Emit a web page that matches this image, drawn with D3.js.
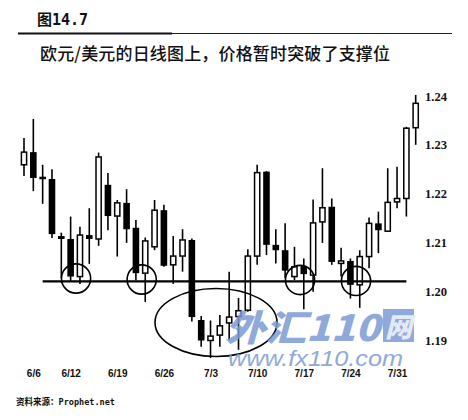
<!DOCTYPE html>
<html><head><meta charset="utf-8">
<script src="https://cdn.jsdelivr.net/npm/d3@7"></script>
<style>body{margin:0;background:#fff}svg{display:block}</style>
</head><body>
<svg id="c" width="468" height="420"></svg>
<script>
// ---- data ----
const dates = ["6/5","6/6","6/7","6/8","6/9","6/12","6/13","6/14","6/15","6/16",
  "6/19","6/20","6/21","6/22","6/23","6/26","6/27","6/28","6/29","6/30",
  "7/3","7/4","7/5","7/6","7/7","7/10","7/11","7/12","7/13","7/14",
  "7/17","7/18","7/19","7/20","7/21","7/24","7/25","7/26","7/27","7/28",
  "7/31","8/1","8/2"];
const open  = [1.2259,1.2285,1.2234,1.2230,1.2113,1.2107,1.2030,1.2115,1.2107,1.2218,
  1.2154,1.2181,1.2130,1.2037,1.2091,1.2166,1.2054,1.2072,1.2105,1.1941,
  1.1899,1.1910,1.1935,1.1948,1.1961,1.2072,1.2245,1.2095,1.2084,1.2030,
  1.2052,1.2033,1.2142,1.2173,1.2057,1.2062,1.2013,1.2071,1.2139,1.2123,
  1.2183,1.2190,1.2335];
const high  = [1.2314,1.2353,1.2259,1.2250,1.2120,1.2153,1.2132,1.2170,1.2284,1.2242,
  1.2187,1.2209,1.2146,1.2110,1.2187,1.2177,1.2113,1.2127,1.2108,1.1949,
  1.1940,1.1951,1.2040,1.1986,1.2086,1.2259,1.2246,1.2127,1.2139,1.2091,
  1.2067,1.2188,1.2252,1.2190,1.2089,1.2067,1.2084,1.2151,1.2163,1.2252,
  1.2255,1.2337,1.2402];
const low   = [1.2236,1.2205,1.2179,1.2109,1.2027,1.2019,1.2015,1.2056,1.2093,1.2125,
  1.2071,1.2099,1.2022,1.1978,1.2084,1.2050,1.2015,1.2040,1.1938,1.1886,
  1.1863,1.1886,1.1900,1.1880,1.1958,1.2054,1.2074,1.2057,1.2027,1.2023,
  1.1963,1.1999,1.2099,1.2054,1.2030,1.1985,1.1966,1.2047,1.2078,1.2122,
  1.2170,1.2153,1.2300];
const close = [1.2285,1.2232,1.2230,1.2117,1.2107,1.2030,1.2115,1.2107,1.2275,1.2154,
  1.2181,1.2127,1.2037,1.2103,1.2166,1.2052,1.2072,1.2105,1.1947,1.1899,
  1.1908,1.1929,1.1947,1.1960,1.2072,1.2243,1.2095,1.2084,1.2042,1.2050,
  1.2035,1.2140,1.2171,1.2060,1.2062,1.2013,1.2071,1.2139,1.2125,1.2182,
  1.2190,1.2334,1.2385];
const dateTicks = ["6/6","6/12","6/19","6/26","7/3","7/10","7/17","7/24","7/31"];
const priceTicks = [1.19,1.20,1.21,1.22,1.23,1.24];
const supportLevel = 1.2020;
const supportFrom = "6/7", supportTo = "8/1";
// annotation circles: fractional candle index and price
const circleIdx = [5.58, 12.62, 29.6, 35.6];
const circlePrice = [1.2026, 1.2024, 1.2023, 1.2021];
const ellipseIdx = 20.59, ellipsePrice = 1.1936;

// ---- scales ----
const svg = d3.select("#c");
const x = d3.scalePoint().domain(dates).range([24, 415.7]);
const xi = d3.scaleLinear().domain([0, dates.length - 1]).range(x.range());
const y = d3.scaleLinear().domain([1.19, 1.24]).range([340, 96]);

// ---- header ----
const t = svg.append("text").attr("x", 37).attr("y", 25).attr("font-weight", "bold").attr("fill", "#111");
t.append("tspan").attr("font-family", "Noto Sans CJK SC").attr("font-size", 15).text("图");
t.append("tspan").attr("font-family", "DejaVu Sans Mono").attr("font-size", 15).text("14.7");
svg.append("line").attr("x1", 18).attr("x2", 172).attr("y1", 33.5).attr("y2", 33.5)
  .attr("stroke", "#111").attr("stroke-width", 2.2);
svg.append("line").attr("x1", 172).attr("x2", 452).attr("y1", 33.5).attr("y2", 33.5)
  .attr("stroke", "#222").attr("stroke-width", 1.1);
svg.append("text").attr("x", 40).attr("y", 60)
  .attr("font-family", "Noto Sans CJK SC").attr("font-size", 17).attr("font-weight", 500)
  .attr("fill", "#111").attr("textLength", 350).text("欧元/美元的日线图上，价格暂时突破了支撑位");

// ---- candles ----
const g = svg.append("g");
const idx = d3.range(dates.length);
const up = i => close[i] >= open[i];
g.selectAll("line.wick").data(idx).join("line").attr("class", "wick")
  .attr("x1", i => x(dates[i])).attr("x2", i => x(dates[i]))
  .attr("y1", i => y(high[i])).attr("y2", i => y(low[i]))
  .attr("stroke", "#000").attr("stroke-width", 1.6);
g.selectAll("rect.body").data(idx).join("rect").attr("class", "body")
  .attr("x", i => x(dates[i]) - (up(i) ? 2.6 : 3.3))
  .attr("width", i => up(i) ? 5.2 : 6.6)
  .attr("y", i => {
    const top = y(Math.max(open[i], close[i])), bot = y(Math.min(open[i], close[i]));
    return bot - top < 2.5 ? (top + bot) / 2 - 1.25 : top;
  })
  .attr("height", i => Math.max(2.5, y(Math.min(open[i], close[i])) - y(Math.max(open[i], close[i]))))
  .attr("fill", i => up(i) ? "#fff" : "#000")
  .attr("stroke", "#000").attr("stroke-width", i => up(i) ? 1.5 : 0);

// ---- support line & annotations ----
svg.append("line").attr("x1", x(supportFrom)).attr("x2", x(supportTo))
  .attr("y1", y(supportLevel)).attr("y2", y(supportLevel))
  .attr("stroke", "#000").attr("stroke-width", 2.2);
svg.selectAll("circle.ann").data(d3.range(circleIdx.length)).join("circle").attr("class", "ann")
  .attr("cx", i => xi(circleIdx[i])).attr("cy", i => y(circlePrice[i])).attr("r", 14.6)
  .attr("fill", "none").attr("stroke", "#000").attr("stroke-width", 1.6);
svg.append("ellipse").attr("cx", xi(ellipseIdx)).attr("cy", y(ellipsePrice))
  .attr("rx", 61).attr("ry", 34).attr("fill", "none").attr("stroke", "#000").attr("stroke-width", 1.6);

// ---- axes ----
const ya = svg.append("g").attr("transform", "translate(425,0)")
  .call(d3.axisRight(y).tickValues(priceTicks).tickFormat(d3.format(".2f")).tickSize(0).tickPadding(0));
ya.select(".domain").remove();
ya.selectAll("text").attr("font-family", "Liberation Serif").attr("font-size", 12.5)
  .attr("font-weight", "bold").attr("fill", "#111");
const xa = svg.append("g").attr("transform", "translate(0,367)")
  .call(d3.axisBottom(x).tickValues(dateTicks).tickSize(0).tickPadding(3));
xa.select(".domain").remove();
xa.selectAll("text").attr("font-family", "Liberation Sans").attr("font-size", 10)
  .attr("font-weight", "bold").attr("fill", "#111");

// ---- watermark ----
const wm = svg.append("g").attr("opacity", 0.85).attr("fill", "#7b9bd4");
wm.append("text").attr("x", 225).attr("y", 341).attr("font-family", "Noto Sans CJK SC")
  .attr("font-size", 36).attr("font-weight", 900).attr("font-style", "italic")
  .attr("textLength", 155).attr("lengthAdjust", "spacingAndGlyphs").text("外汇110");
wm.append("rect").attr("x", 383).attr("y", 309).attr("width", 31).attr("height", 33);
wm.append("text").attr("x", 385).attr("y", 337).attr("font-family", "Noto Sans CJK SC")
  .attr("font-size", 27).attr("font-weight", 900).attr("font-style", "italic").attr("fill", "#dfe6f4")
  .text("网");
wm.append("text").attr("x", 228).attr("y", 366).attr("font-family", "Liberation Sans")
  .attr("font-size", 22).attr("font-style", "italic")
  .attr("textLength", 175).attr("lengthAdjust", "spacingAndGlyphs").text("www.fx110.com");

// ---- source ----
const s = svg.append("text").attr("x", 16).attr("y", 405).attr("font-size", 9.5)
  .attr("font-weight", "bold").attr("fill", "#111")
  .attr("textLength", 99).attr("lengthAdjust", "spacingAndGlyphs");
s.append("tspan").attr("font-family", "Noto Sans CJK SC").text("资料来源：");
s.append("tspan").attr("font-family", "DejaVu Sans Mono").text("Prophet.net");
</script>
</body></html>
